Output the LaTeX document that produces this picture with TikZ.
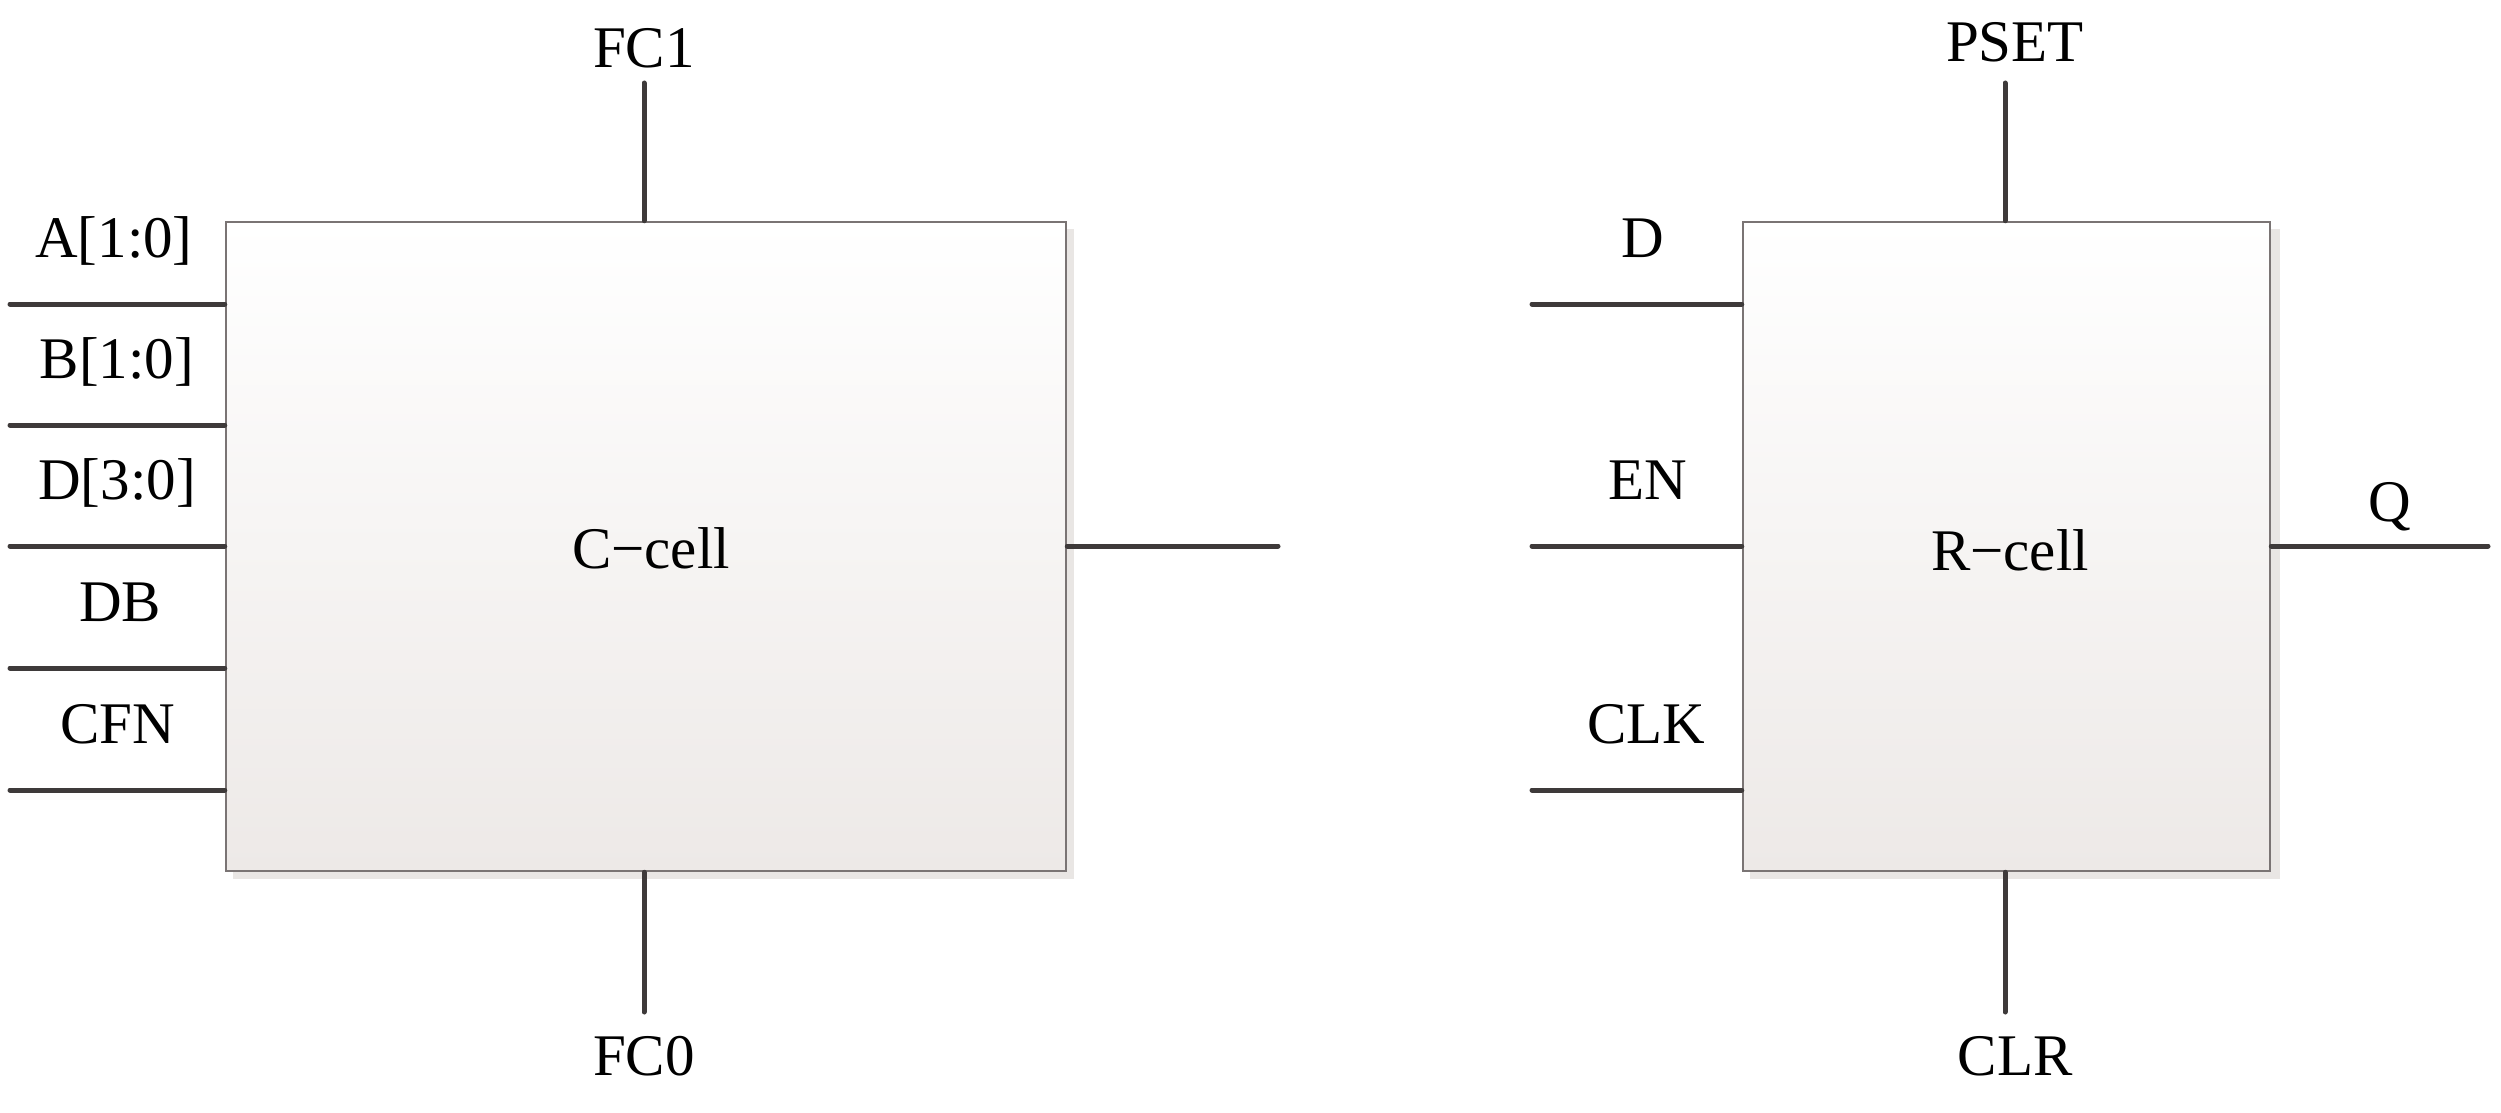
\documentclass[tikz,border=0pt]{standalone}
\usepackage{fontspec}
\setmainfont{Liberation Serif}
\usetikzlibrary{calc}
\definecolor{wirecol}{HTML}{3E3A3A}
\definecolor{boxline}{HTML}{7A7474}
\definecolor{boxbot}{HTML}{EDE9E7}
\definecolor{shadowcol}{HTML}{E9E6E4}
\begin{document}
\begin{tikzpicture}[x=1pt,y=-1pt,
  wire/.style={draw=wirecol,line width=5pt,line cap=round},
  cellbox/.style={rectangle,draw=boxline,line width=2.5pt,inner sep=0pt,
    top color=white,bottom color=boxbot,shading angle=0},
  lbl/.style={inner sep=0pt,anchor=base,font=\fontsize{59}{70}\selectfont},
  ]
\useasboundingbox (0,0) rectangle (2501,1113);
% shadows
\fill[shadowcol] (233,229) rectangle (1074,879);
\fill[shadowcol] (1750,229) rectangle (2280,879);
% boxes
\node[cellbox,minimum width=840pt,minimum height=649pt] (cbox) at (646,546.5) {};
\node[cellbox,minimum width=527pt,minimum height=649pt] (rbox) at (2006.5,546.5) {};
% C-cell inputs
\coordinate (ca) at (10,304);
\coordinate (cb) at (10,425);
\coordinate (cd) at (10,546);
\coordinate (cdb) at (10,668);
\coordinate (ccfn) at (10,790);
\foreach \c in {ca,cb,cd,cdb,ccfn}{\draw[wire] (\c) -- (\c -| cbox.west);}
\node[lbl] (la) at (114,257) {A[1:0]};
\node[lbl] (lb) at (117,378) {B[1:0]};
\node[lbl] (ld) at (117,499) {D[3:0]};
\node[lbl] (ldb) at (120,621) {DB};
\node[lbl] (lcfn) at (118,743) {CFN};
% FC1 / FC0
\coordinate (fc1) at (644,83);
\coordinate (fc0) at (644,1012);
\draw[wire] (fc1) -- (fc1 |- cbox.north);
\draw[wire] (fc0) -- (fc0 |- cbox.south);
\node[lbl] (lfc1) at (644,68) {FC1};
\node[lbl] (lfc0) at (644,1075) {FC0};
% C output
\coordinate (cout) at (1278,546);
\draw[wire] (cbox.east |- cout) -- (cout);
\node[lbl] (ctext) at (651,568) {C−cell};
% R-cell inputs
\coordinate (rd) at (1532,304);
\coordinate (ren) at (1532,546);
\coordinate (rclk) at (1532,790);
\foreach \c in {rd,ren,rclk}{\draw[wire] (\c) -- (\c -| rbox.west);}
\node[lbl] (lrd) at (1643,257) {D};
\node[lbl] (lren) at (1648,499) {EN};
\node[lbl] (lrclk) at (1646,743) {CLK};
% PSET / CLR
\coordinate (pset) at (2005,83);
\coordinate (clr) at (2005,1012);
\draw[wire] (pset) -- (pset |- rbox.north);
\draw[wire] (clr) -- (clr |- rbox.south);
\node[lbl] (lpset) at (2015,62) {PSET};
\node[lbl] (lclr) at (2015,1075) {CLR};
% Q
\coordinate (qout) at (2488,546);
\draw[wire] (rbox.east |- qout) -- (qout);
\node[lbl] (lq) at (2390,521) {Q};
\node[lbl] (rtext) at (2010,570) {R−cell};
\end{tikzpicture}
\end{document}
